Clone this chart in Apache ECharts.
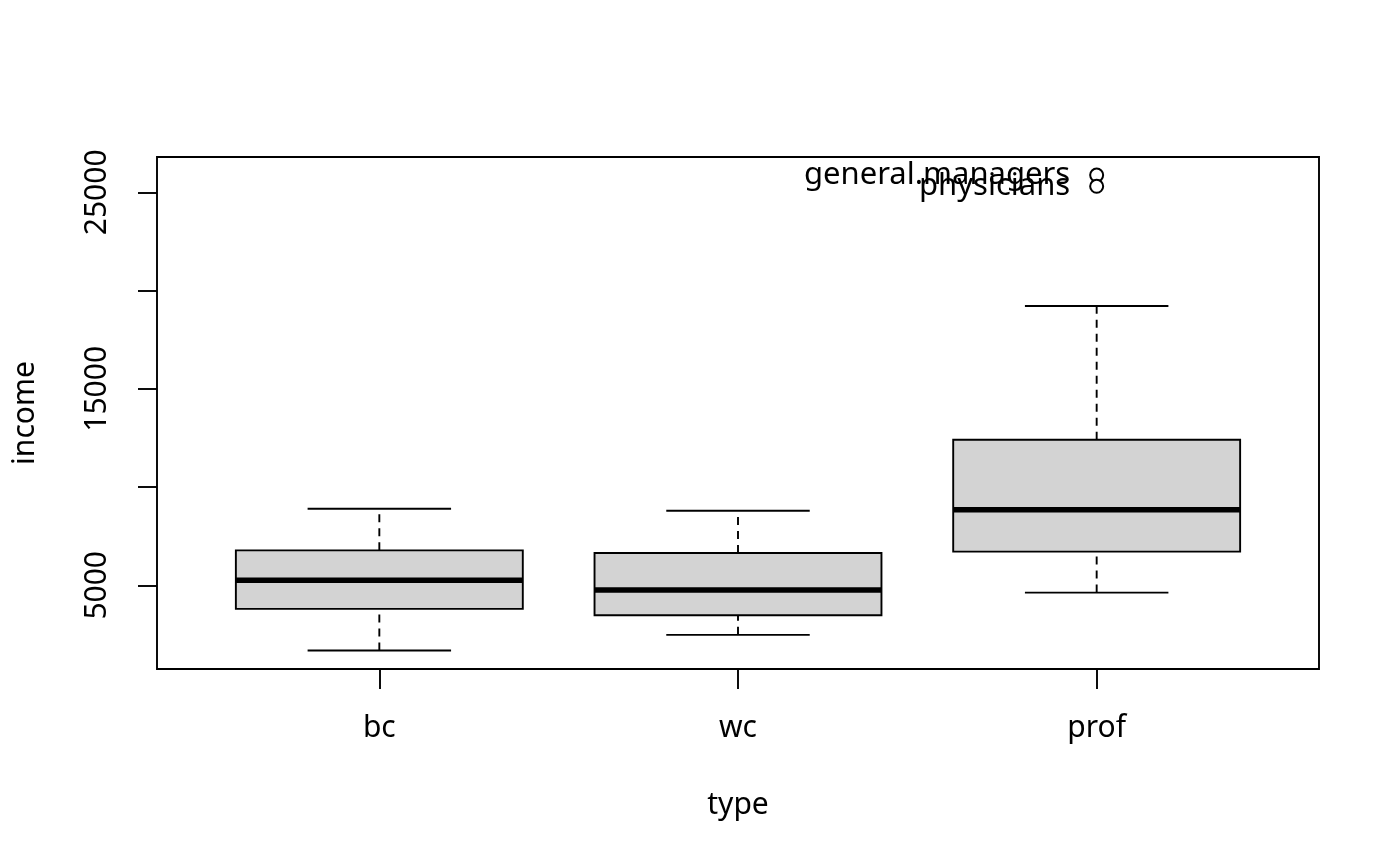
<!DOCTYPE html>
<html>
<head>
<meta charset="utf-8">
<title>income by type</title>
<script src="https://cdn.jsdelivr.net/npm/echarts@6/dist/echarts.min.js"></script>
<style>
  html, body { margin: 0; padding: 0; background: #fff; }
  #main { width: 1400px; height: 866px; }
</style>
</head>
<body>
<div id="main"></div>
<script>
// boxplot stats: [low whisker, Q1, median, Q3, high whisker]
var categories = ['bc', 'wc', 'prof'];
var lowWhisker = [1680, 2478, 4629];
var q1 = [3800, 3475, 6713];
var medians = [5254, 4766, 8849];
var q3 = [6779, 6647, 12407];
var highWhisker = [8899, 8798, 19219];

// outliers (category index, value, label)
var outlierCat = [2, 2];
var outlierVal = [25879, 25308];
var outlierNames = ['general.managers', 'physicians'];

var yTicks = [5000, 10000, 15000, 20000, 25000];
var yLabels = [5000, 15000, 25000];

var FONT = 'Noto Sans';
var LW = 1.9;

var boxData = [];
for (var i = 0; i < categories.length; i++) {
  boxData.push([i, lowWhisker[i], q1[i], medians[i], q3[i], highWhisker[i]]);
}
var outData = [];
for (var j = 0; j < outlierVal.length; j++) {
  outData.push({ value: [outlierCat[j], outlierVal[j]], name: outlierNames[j] });
}

var chart = echarts.init(document.getElementById('main'), null, { renderer: 'canvas' });

function renderBox(params, api) {
  var idx = api.value(0);
  var lo = api.coord([idx, api.value(1)]);
  var b1 = api.coord([idx, api.value(2)]);
  var md = api.coord([idx, api.value(3)]);
  var b3 = api.coord([idx, api.value(4)]);
  var hi = api.coord([idx, api.value(5)]);
  var band = api.size([1, 0])[0];
  var hw = band * 0.4;   // box half width
  var sw = band * 0.2;   // staple half width
  var x = lo[0];
  var solid = { stroke: '#000', lineWidth: LW, fill: null };
  var dashed = { stroke: '#000', lineWidth: LW, lineDash: [8, 6], fill: null };
  return {
    type: 'group',
    children: [
      { type: 'line', shape: { x1: x, y1: lo[1], x2: x, y2: b1[1] }, style: dashed },
      { type: 'line', shape: { x1: x, y1: b3[1], x2: x, y2: hi[1] }, style: dashed },
      { type: 'line', shape: { x1: x - sw, y1: lo[1], x2: x + sw, y2: lo[1] }, style: solid },
      { type: 'line', shape: { x1: x - sw, y1: hi[1], x2: x + sw, y2: hi[1] }, style: solid },
      { type: 'rect', shape: { x: x - hw, y: b3[1], width: hw * 2, height: b1[1] - b3[1] },
        style: { fill: '#d3d3d3', stroke: '#000', lineWidth: LW } },
      { type: 'line', shape: { x1: x - hw, y1: md[1], x2: x + hw, y2: md[1] },
        style: { stroke: '#000', lineWidth: 5.5 } }
    ]
  };
}

var yMin = 740, yMax = 26800;

chart.setOption({
  animation: false,
  backgroundColor: '#fff',
  textStyle: { fontFamily: FONT },
  grid: [
    // outer frame (R plot region)
    { left: 157, right: 81, top: 157, bottom: 197, show: true,
      borderColor: '#000', borderWidth: LW, backgroundColor: 'transparent' },
    // inner grid so categories sit at R's x positions (xlim 0.38..3.62)
    { left: 200, right: 124, top: 157, bottom: 197 }
  ],
  xAxis: [
    { gridIndex: 0, type: 'value', min: 0, max: 1, show: false },
    { gridIndex: 1, type: 'category', data: categories, boundaryGap: true,
      axisLine: { show: false },
      axisTick: { show: true, alignWithLabel: true, length: 20,
        lineStyle: { color: '#000', width: LW } },
      axisLabel: { color: '#000', fontSize: 30, fontFamily: FONT, margin: 44 },
      splitLine: { show: false } }
  ],
  yAxis: [
    { gridIndex: 0, type: 'value', min: yMin, max: yMax,
      axisLine: { show: false },
      axisTick: { show: true, length: 19, customValues: yTicks,
        lineStyle: { color: '#000', width: LW } },
      axisLabel: { show: true, rotate: 90, color: '#000', fontSize: 30, fontFamily: FONT,
        margin: 45, customValues: yLabels,
        formatter: function (v) { return String(v); } },
      splitLine: { show: false } },
    { gridIndex: 1, type: 'value', min: yMin, max: yMax, show: false, splitLine: { show: false } }
  ],
  graphic: [
    { type: 'text', x: 738, y: 805,
      style: { text: 'type', fontSize: 30, fontFamily: FONT, fill: '#000',
        textAlign: 'center', textVerticalAlign: 'middle' } },
    { type: 'text', x: 25, y: 413, rotation: Math.PI / 2,
      style: { text: 'income', fontSize: 30, fontFamily: FONT, fill: '#000',
        textAlign: 'center', textVerticalAlign: 'middle' } }
  ],
  series: [
    {
      type: 'custom',
      xAxisIndex: 1, yAxisIndex: 1,
      renderItem: renderBox,
      encode: { x: 0, y: [1, 2, 3, 4, 5] },
      data: boxData
    },
    {
      type: 'scatter',
      xAxisIndex: 1, yAxisIndex: 1,
      symbol: 'emptyCircle',
      symbolSize: 13,
      itemStyle: { color: '#000', borderColor: '#000', borderWidth: LW, opacity: 1 },
      label: { show: true, position: 'left', distance: 19, formatter: '{b}',
        color: '#000', opacity: 1, fontSize: 31, fontFamily: FONT },
      emphasis: { disabled: true },
      data: outData
    }
  ]
});
</script>
</body>
</html>
